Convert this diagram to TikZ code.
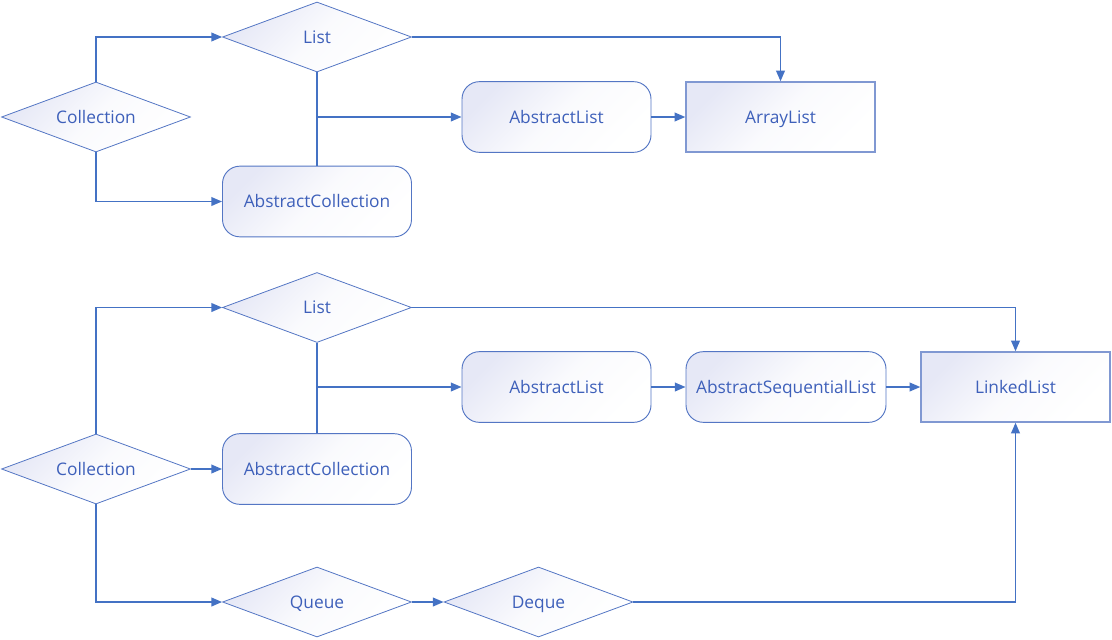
\documentclass[tikz,border=0pt]{standalone}
\usepackage{fontspec}
\setmainfont{Open Sans}
\usetikzlibrary{shapes.geometric,arrows.meta,calc}
\definecolor{linec}{RGB}{68,114,196}
\definecolor{borderc}{RGB}{84,118,196}
\definecolor{rectc}{RGB}{128,152,210}
\definecolor{txtc}{RGB}{62,96,186}
\definecolor{fillc}{RGB}{230,232,246}
\begin{document}
\begin{tikzpicture}[x=0.75pt,y=-0.75pt,
  base/.style={font=\fontsize{13pt}{15pt}\selectfont, text=txtc, inner sep=0pt,
    text height=9.3pt, text depth=0pt,
    top color=fillc, bottom color=white, middle color=white!80!fillc, shading angle=45},
  dia/.style={base, diamond, aspect=2.7, draw=borderc, line width=0.6pt, minimum width=141.75pt, minimum height=52.5pt},
  rbox/.style={base, rectangle, rounded corners=13pt, draw=borderc, line width=0.7pt, minimum width=141.75pt, minimum height=53pt},
  sbox/.style={base, rectangle, draw=rectc, line width=1pt, minimum width=141.75pt, minimum height=52.5pt},
  conn/.style={draw=linec, line width=1.2pt},
  arr/.style={conn, -{Triangle[length=8pt,width=6.5pt]}}
]
\useasboundingbox (0,0) rectangle (1112,639);
% top
\node[dia] (col1) at (96,117) {Collection};
\node[dia] (list1) at (317,37) {List};
\node[rbox] (ac1) at (317,201.5) {AbstractCollection};
\node[rbox] (al1) at (556.5,117) {AbstractList};
\node[sbox] (arr1) at (780.5,117) {ArrayList};
\coordinate (b1) at (list1.south |- al1.west);
\draw[arr] (col1.north) |- (list1.west);
\draw[arr] (col1.south) |- (ac1.west);
\draw[conn] (list1.south) -- (ac1.north);
\draw[arr] (b1) -- (al1.west);
\draw[arr] (al1.east) -- (arr1.west);
\draw[arr] (list1.east) -| (arr1.north);
% bottom
\node[dia] (col2) at (96,469) {Collection};
\node[dia] (list2) at (317,307.5) {List};
\node[rbox] (ac2) at (317,469) {AbstractCollection};
\node[rbox] (al2) at (556.5,387) {AbstractList};
\node[rbox, minimum width=150pt] (asl2) at (786,387) {AbstractSequentialList};
\node[sbox] (ll2) at (1015.5,387) {LinkedList};
\node[dia] (q2) at (317,602) {Queue};
\node[dia] (d2) at (538.5,602) {Deque};
\coordinate (b2) at (list2.south |- al2.west);
\draw[arr] (col2.north) |- (list2.west);
\draw[arr] (col2.east) -- (ac2.west);
\draw[arr] (col2.south) |- (q2.west);
\draw[arr] (q2.east) -- (d2.west);
\draw[arr] (d2.east) -| (ll2.south);
\draw[arr] (list2.east) -| (ll2.north);
\draw[conn] (list2.south) -- (ac2.north);
\draw[arr] (b2) -- (al2.west);
\draw[arr] (al2.east) -- (asl2.west);
\draw[arr] (asl2.east) -- (ll2.west);
\end{tikzpicture}
\end{document}
